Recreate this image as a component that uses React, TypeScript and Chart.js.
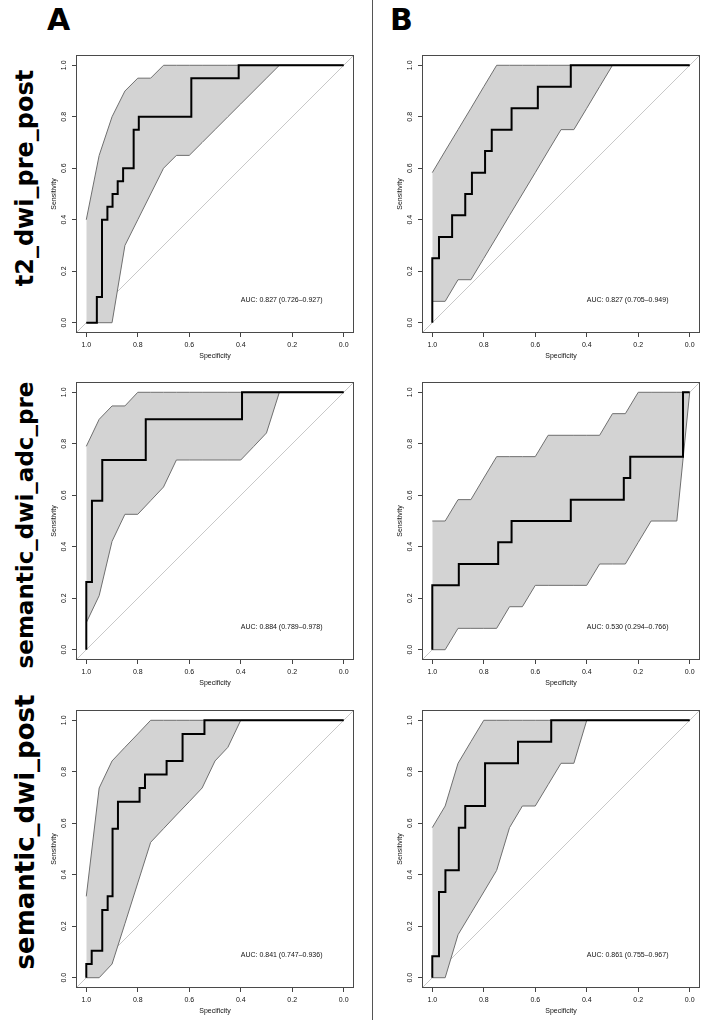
import React, { useEffect, useRef } from "react";
import { Chart, registerables } from "chart.js";

Chart.register(...registerables);

// ---------- shared values ----------
const tickValues = [0, 0.2, 0.4, 0.6, 0.8, 1.0];
const ciSpecGrid = [1, 0.95, 0.9, 0.85, 0.8, 0.75, 0.7, 0.65, 0.6, 0.55, 0.5, 0.45, 0.4, 0.35, 0.3, 0.25, 0.2, 0.15, 0.1, 0.05, 0];
const identitySpec = [1.04, -0.04];
const identitySens = [-0.04, 1.04];
const columnLabels = ["A", "B"];
const rowLabels = ["t2_dwi_pre_post", "semantic_dwi_adc_pre", "semantic_dwi_post"];

// ---------- A / t2_dwi_pre_post ----------
const a1RocSpec = [1, 0.959, 0.939, 0.918, 0.898, 0.878, 0.857, 0.816, 0.796, 0.592, 0.408, 0];
const a1RocSens = [0, 0.1, 0.4, 0.45, 0.5, 0.55, 0.6, 0.75, 0.8, 0.95, 1, 1];
const a1Upper = [0.4, 0.65, 0.8, 0.9, 0.95, 0.95, 1, 1, 1, 1, 1, 1, 1, 1, 1, 1, 1, 1, 1, 1, 1];
const a1Lower = [0, 0, 0, 0.3, 0.4, 0.5, 0.6, 0.65, 0.65, 0.7, 0.75, 0.8, 0.85, 0.9, 0.95, 1, 1, 1, 1, 1, 1];
const a1Auc = "AUC: 0.827 (0.726\u20130.927)";

// ---------- B / t2_dwi_pre_post ----------
const b1RocSpec = [1, 1, 0.974, 0.923, 0.872, 0.846, 0.795, 0.769, 0.692, 0.59, 0.462, 0];
const b1RocSens = [0, 0.25, 0.333, 0.417, 0.5, 0.583, 0.667, 0.75, 0.833, 0.917, 1, 1];
const b1Upper = [0.583, 0.667, 0.75, 0.833, 0.917, 1, 1, 1, 1, 1, 1, 1, 1, 1, 1, 1, 1, 1, 1, 1, 1];
const b1Lower = [0.083, 0.083, 0.167, 0.167, 0.25, 0.333, 0.417, 0.5, 0.583, 0.667, 0.75, 0.75, 0.833, 0.917, 1, 1, 1, 1, 1, 1, 1];
const b1Auc = "AUC: 0.827 (0.705\u20130.949)";

// ---------- A / semantic_dwi_adc_pre ----------
const a2RocSpec = [1, 1, 0.978, 0.938, 0.769, 0.395, 0];
const a2RocSens = [0, 0.263, 0.579, 0.737, 0.895, 1, 1];
const a2Upper = [0.79, 0.895, 0.947, 0.947, 1, 1, 1, 1, 1, 1, 1, 1, 1, 1, 1, 1, 1, 1, 1, 1, 1];
const a2Lower = [0.105, 0.21, 0.421, 0.526, 0.526, 0.579, 0.632, 0.737, 0.737, 0.737, 0.737, 0.737, 0.737, 0.789, 0.842, 1, 1, 1, 1, 1, 1];
const a2Auc = "AUC: 0.884 (0.789\u20130.978)";

// ---------- B / semantic_dwi_adc_pre ----------
const b2RocSpec = [1, 1, 0.897, 0.744, 0.692, 0.462, 0.256, 0.231, 0.026, 0];
const b2RocSens = [0, 0.25, 0.333, 0.417, 0.5, 0.583, 0.667, 0.75, 1, 1];
const b2Upper = [0.5, 0.5, 0.583, 0.583, 0.667, 0.75, 0.75, 0.75, 0.75, 0.833, 0.833, 0.833, 0.833, 0.833, 0.917, 0.917, 1, 1, 1, 1, 1];
const b2Lower = [0, 0, 0.083, 0.083, 0.083, 0.083, 0.167, 0.167, 0.25, 0.25, 0.25, 0.25, 0.25, 0.333, 0.333, 0.333, 0.417, 0.5, 0.5, 0.5, 1];
const b2Auc = "AUC: 0.530 (0.294\u20130.766)";

// ---------- A / semantic_dwi_post ----------
const a3RocSpec = [1, 1, 0.979, 0.938, 0.917, 0.898, 0.877, 0.793, 0.772, 0.688, 0.626, 0.541, 0];
const a3RocSens = [0, 0.053, 0.105, 0.263, 0.316, 0.579, 0.684, 0.737, 0.789, 0.842, 0.947, 1, 1];
const a3Upper = [0.316, 0.737, 0.842, 0.895, 0.947, 1, 1, 1, 1, 1, 1, 1, 1, 1, 1, 1, 1, 1, 1, 1, 1];
const a3Lower = [0, 0, 0.053, 0.21, 0.368, 0.526, 0.579, 0.632, 0.684, 0.737, 0.842, 0.895, 1, 1, 1, 1, 1, 1, 1, 1, 1];
const a3Auc = "AUC: 0.841 (0.747\u20130.936)";

// ---------- B / semantic_dwi_post ----------
const b3RocSpec = [1, 1, 0.974, 0.949, 0.897, 0.872, 0.795, 0.667, 0.538, 0];
const b3RocSens = [0, 0.083, 0.333, 0.417, 0.583, 0.667, 0.833, 0.917, 1, 1];
const b3Upper = [0.583, 0.667, 0.833, 0.917, 1, 1, 1, 1, 1, 1, 1, 1, 1, 1, 1, 1, 1, 1, 1, 1, 1];
const b3Lower = [0, 0, 0.167, 0.25, 0.333, 0.417, 0.583, 0.667, 0.667, 0.75, 0.833, 0.833, 1, 1, 1, 1, 1, 1, 1, 1, 1];
const b3Auc = "AUC: 0.861 (0.755\u20130.967)";

const aucPosition = [0.4, 0.088];

// ---------- layout ----------
const colBoxLeft = [76, 422];
const rowBoxTop = [55, 382, 710];
const BOX = 278;
const Y_AXIS_W = 36;
const X_AXIS_H = 30;
const PAD_TOP = 10;
const PAD_RIGHT = 1;
const rowLabelCenterY = [178, 525, 832];
const rowLabelSize = [24, 23, 26];

type Panel = {
  col: number;
  row: number;
  rocSpec: number[];
  rocSens: number[];
  upper: number[];
  lower: number[];
  auc: string;
};

const panels: Panel[] = [
  { col: 0, row: 0, rocSpec: a1RocSpec, rocSens: a1RocSens, upper: a1Upper, lower: a1Lower, auc: a1Auc },
  { col: 1, row: 0, rocSpec: b1RocSpec, rocSens: b1RocSens, upper: b1Upper, lower: b1Lower, auc: b1Auc },
  { col: 0, row: 1, rocSpec: a2RocSpec, rocSens: a2RocSens, upper: a2Upper, lower: a2Lower, auc: a2Auc },
  { col: 1, row: 1, rocSpec: b2RocSpec, rocSens: b2RocSens, upper: b2Upper, lower: b2Lower, auc: b2Auc },
  { col: 0, row: 2, rocSpec: a3RocSpec, rocSens: a3RocSens, upper: a3Upper, lower: a3Lower, auc: a3Auc },
  { col: 1, row: 2, rocSpec: b3RocSpec, rocSens: b3RocSens, upper: b3Upper, lower: b3Lower, auc: b3Auc },
];

const FONT = '"Liberation Sans", Arial, Helvetica, sans-serif';

const toPoints = (xs: number[], ys: number[]) => xs.map((x, i) => ({ x, y: ys[i] }));

function RocPanel({ p }: { p: Panel }) {
  const ref = useRef<HTMLCanvasElement>(null);
  const width = Y_AXIS_W + BOX + PAD_RIGHT;
  const height = PAD_TOP + BOX + X_AXIS_H;
  const left = colBoxLeft[p.col] - Y_AXIS_W;
  const top = rowBoxTop[p.row] - PAD_TOP;

  useEffect(() => {
    if (!ref.current) return;
    const boxPlugin = {
      id: "rBox",
      afterDatasetsDraw(chart: any) {
        const { ctx, chartArea: a } = chart;
        ctx.save();
        ctx.strokeStyle = "#4a4a4a";
        ctx.lineWidth = 1;
        ctx.strokeRect(Math.round(a.left) + 0.5, Math.round(a.top) + 0.5, Math.round(a.right - a.left) - 1, Math.round(a.bottom - a.top) - 1);
        const xs = chart.scales.x;
        const ys = chart.scales.y;
        ctx.fillStyle = "#111";
        ctx.font = `7px ${FONT}`;
        ctx.textAlign = "left";
        ctx.textBaseline = "middle";
        ctx.fillText(p.auc, xs.getPixelForValue(aucPosition[0]), ys.getPixelForValue(aucPosition[1]));
        ctx.restore();
      },
    };
    const tickFont = { family: FONT, size: 7 };
    const chart = new Chart(ref.current, {
      type: "line",
      data: {
        datasets: [
          {
            data: toPoints(p.rocSpec, p.rocSens),
            borderColor: "#000000",
            borderWidth: 2,
            stepped: true,
            pointRadius: 0,
            fill: false,
          },
          {
            data: toPoints(ciSpecGrid, p.upper),
            borderColor: "#6f6f6f",
            borderWidth: 1,
            pointRadius: 0,
            fill: false,
          },
          {
            data: toPoints(ciSpecGrid, p.lower),
            borderColor: "#6f6f6f",
            borderWidth: 1,
            pointRadius: 0,
            backgroundColor: "#d3d3d3",
            fill: "-1",
          },
          {
            data: toPoints(identitySpec, identitySens),
            borderColor: "#c8c8c8",
            borderWidth: 1,
            pointRadius: 0,
            fill: false,
          },
        ],
      } as any,
      options: {
        animation: false,
        responsive: false,
        devicePixelRatio: 1,
        layout: { padding: { top: PAD_TOP, right: PAD_RIGHT, left: 0, bottom: 0 } },
        plugins: { legend: { display: false }, tooltip: { enabled: false } },
        elements: { line: { tension: 0 } },
        scales: {
          x: {
            type: "linear",
            min: -0.04,
            max: 1.04,
            reverse: true,
            afterBuildTicks: (s: any) => {
              s.ticks = tickValues.map((v) => ({ value: v }));
            },
            afterFit: (s: any) => {
              s.height = X_AXIS_H;
            },
            grid: { drawOnChartArea: false, drawTicks: true, tickLength: 4, color: "#444", lineWidth: 1 },
            border: { display: false },
            ticks: {
              font: tickFont,
              color: "#111",
              padding: 3.5,
              maxRotation: 0,
              autoSkip: false,
              callback: (v: any) => Number(v).toFixed(1),
            },
            title: { display: true, text: "Specificity", font: tickFont, color: "#111", padding: { top: 0, bottom: 3 } },
          },
          y: {
            type: "linear",
            min: -0.04,
            max: 1.04,
            afterBuildTicks: (s: any) => {
              s.ticks = tickValues.map((v) => ({ value: v }));
            },
            afterFit: (s: any) => {
              s.width = Y_AXIS_W;
            },
            grid: { drawOnChartArea: false, drawTicks: true, tickLength: 4, color: "#444", lineWidth: 1 },
            border: { display: false },
            ticks: {
              font: tickFont,
              color: "#111",
              padding: 3,
              minRotation: 90,
              maxRotation: 90,
              crossAlign: "center",
              autoSkip: false,
              callback: (v: any) => Number(v).toFixed(1),
            },
            title: { display: true, text: "Sensitivity", font: tickFont, color: "#111", padding: { top: 10, bottom: 0 } },
          },
        },
      } as any,
      plugins: [boxPlugin],
    });
    return () => chart.destroy();
  }, []);

  return (
    <canvas
      ref={ref}
      width={width}
      height={height}
      style={{ position: "absolute", left, top, width, height }}
    />
  );
}

export default function App() {
  return (
    <div
      style={{
        position: "absolute",
        left: 0,
        top: 0,
        width: 701,
        height: 1020,
        overflow: "hidden",
        background: "#ffffff",
      }}
    >
      {columnLabels.map((t, i) => (
        <div
          key={t}
          style={{
            position: "absolute",
            left: i === 0 ? 47 : 390,
            top: 4.5,
            fontFamily: '"DejaVu Sans", sans-serif',
            fontWeight: "bold",
            fontSize: 30,
            lineHeight: "30px",
            color: "#000",
          }}
        >
          {t}
        </div>
      ))}
      <div style={{ position: "absolute", left: 372, top: 0, width: 1, height: 1020, background: "#555" }} />
      {rowLabels.map((t, i) => (
        <div key={t} style={{ position: "absolute", left: 25, top: rowLabelCenterY[i], width: 0, height: 0 }}>
          <div
            style={{
              position: "absolute",
              left: 0,
              top: 0,
              transform: "translate(-50%, -50%) rotate(-90deg)",
              whiteSpace: "nowrap",
              fontFamily: '"DejaVu Sans", sans-serif',
              fontWeight: "bold",
              fontSize: rowLabelSize[i],
              lineHeight: 1,
              color: "#000",
            }}
          >
            {t}
          </div>
        </div>
      ))}
      {panels.map((p, i) => (
        <RocPanel key={i} p={p} />
      ))}
    </div>
  );
}
